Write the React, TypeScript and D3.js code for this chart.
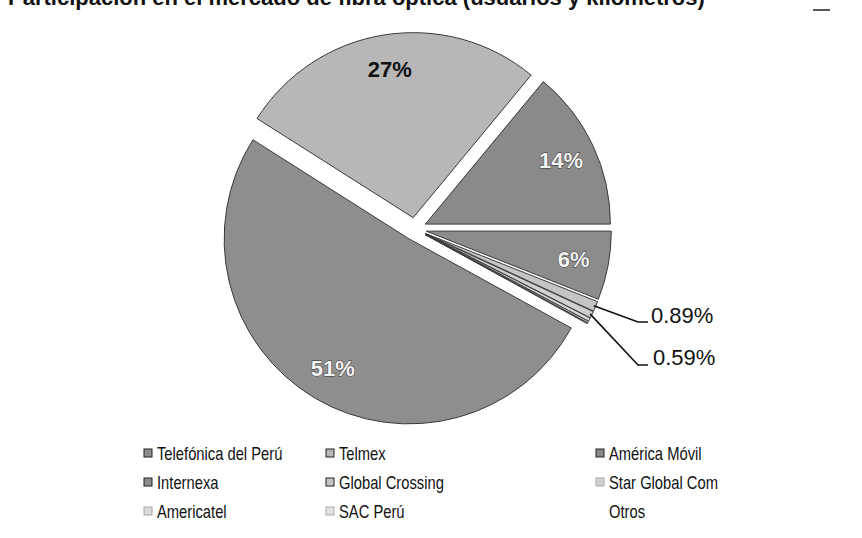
import React from "react";
import * as d3 from "d3";

const categories = [
  "Telefónica del Perú",
  "Telmex",
  "América Móvil",
  "Internexa",
  "Global Crossing",
  "Star Global Com",
  "Americatel",
  "SAC Perú",
  "Otros",
];
const values = [51, 27, 14, 6, 0.89, 0.59, 0.3, 0.15, 0.07];
const labels = ["51%", "27%", "14%", "6%", "0.89%", "0.59%", "", "", ""];
const fills = ["#8e8e8e", "#b7b7b7", "#8a8a8a", "#8c8c8c", "#c4c4c4", "#d0d0d0", "#dadada", "#e2e2e2", "#ffffff"];
const title = "Participación en el mercado de fibra óptica (usuarios y kilómetros)";

const W = 862;
const H = 538;
const cx = 415;
const cy = 229;
const R = 185;
const explode = 11.5;
const startDeg = 118.8;

const legendFont = "'Liberation Sans', Arial, sans-serif";

export default function App() {
  const start = (startDeg * Math.PI) / 180;
  const pie = d3
    .pie<number>()
    .sort(null)
    .value((d) => d)
    .startAngle(start)
    .endAngle(start + 2 * Math.PI);
  const arcs = pie(values);
  const arc = d3.arc<d3.PieArcDatum<number>>().innerRadius(0).outerRadius(R);
  const labelArc = d3.arc<d3.PieArcDatum<number>>().innerRadius(150).outerRadius(150);

  const shift = (a: d3.PieArcDatum<number>) => {
    const m = (a.startAngle + a.endAngle) / 2;
    return [Math.sin(m) * explode, -Math.cos(m) * explode];
  };

  const leaders = [
    { idx: 4, elbow: [638, 322], end: [648, 322], text: [651, 315] },
    { idx: 5, elbow: [638, 365], end: [648, 365], text: [653, 357] },
  ];

  const legendCols = [148, 330, 600];
  const legendRows = [453, 482, 511];

  return (
    <svg width={W} height={H} style={{ position: "absolute", left: 0, top: 0, background: "#fff" }}>
      <rect width={W} height={H} fill="#fff" />
      <text x={8} y={5} fontFamily="Liberation Sans, Arial, sans-serif" fontWeight="bold" fontSize={22} fill="#111">
        {title}
      </text>
      <line x1={813} y1={10} x2={830} y2={10} stroke="#222" strokeWidth={1.5} />
      <g>
        {arcs.map((a, i) => {
          const [dx, dy] = shift(a);
          return (
            <path
              key={i}
              d={arc(a) || ""}
              transform={`translate(${cx + dx},${cy + dy})`}
              fill={fills[i]}
              stroke="#3a3a3a"
              strokeWidth={1}
            />
          );
        })}
        {arcs.slice(0, 4).map((a, i) => {
          const [dx, dy] = shift(a);
          const [lx, ly] = labelArc.centroid(a);
          const dark = i === 1;
          return (
            <text
              key={"l" + i}
              x={cx + dx + lx}
              y={cy + dy + ly}
              textAnchor="middle"
              dominantBaseline="central"
              fontFamily="Liberation Sans, Arial, sans-serif"
              fontWeight="bold"
              fontSize={22}
              fill={dark ? "#111" : "#f4f4f4"}
              stroke={dark ? "none" : "#333"}
              strokeWidth={dark ? 0 : 0.9}
              paintOrder="stroke"
            >
              {labels[i]}
            </text>
          );
        })}
        {leaders.map((L) => {
          const a = arcs[L.idx];
          const [dx, dy] = shift(a);
          const m = (a.startAngle + a.endAngle) / 2;
          const sx = cx + dx + Math.sin(m) * (R - 2);
          const sy = cy + dy - Math.cos(m) * (R - 2);
          return (
            <g key={"ld" + L.idx}>
              <polyline
                points={`${sx},${sy} ${L.elbow[0]},${L.elbow[1]} ${L.end[0]},${L.end[1]}`}
                fill="none"
                stroke="#111"
                strokeWidth={1.6}
              />
              <text
                x={L.text[0]}
                y={L.text[1]}
                dominantBaseline="central"
                fontFamily="Liberation Sans, Arial, sans-serif"
                fontSize={22}
                fill="#111"
              >
                {labels[L.idx]}
              </text>
            </g>
          );
        })}
      </g>
      <g>
        {categories.map((c, i) => {
          const x = legendCols[i % 3];
          const y = legendRows[Math.floor(i / 3)];
          return (
            <g key={"lg" + i}>
              {i < 8 && (
                <rect x={x - 4} y={y - 4} width={8} height={8} fill={fills[i]} stroke={i < 5 ? "#222" : "#aaa"} strokeWidth={1} />
              )}
              <g transform={`translate(${x + 9},${y}) scale(0.82,1)`}>
                <text x={0} y={0} dominantBaseline="central" fontFamily={legendFont} fontSize={18} fill="#111">
                  {c}
                </text>
              </g>
            </g>
          );
        })}
      </g>
    </svg>
  );
}
